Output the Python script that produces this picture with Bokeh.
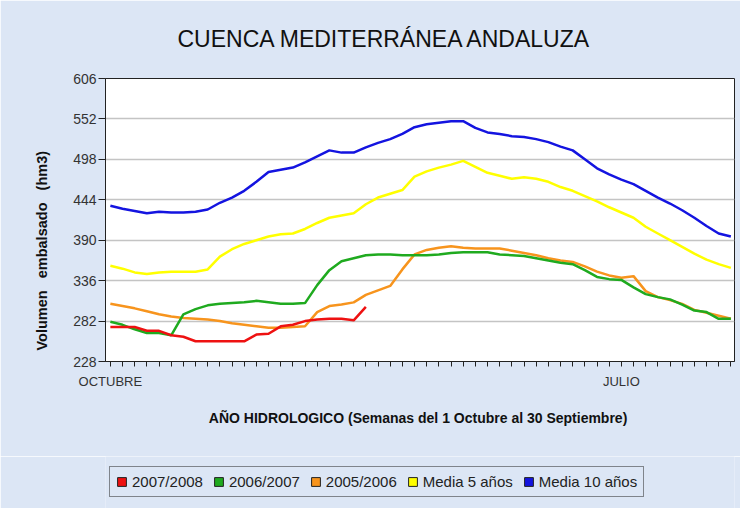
from bokeh.plotting import figure
from bokeh.layouts import column
from bokeh.models import FixedTicker, Legend, LegendItem, Title
from bokeh.embed import file_html
from bokeh.resources import INLINE

# ---- data (weeks of the hydrological year, 1 Oct .. 30 Sep) ----
weeks = list(range(52))
media_10 = [436, 432, 429, 426, 428, 427, 427, 428, 431, 440, 447, 456, 468, 481, 484, 487,
            494, 502, 510, 507, 507, 514, 520, 525, 532, 541, 545, 547, 549, 549, 540, 534,
            532, 529, 528, 525, 521, 515, 510, 498, 486, 478, 471, 465, 456, 447, 439, 430,
            420, 409, 399, 395]
media_5 = [356, 352, 347, 345, 347, 348, 348, 348, 351, 368, 378, 385, 390, 395, 398, 399,
           405, 413, 420, 423, 426, 438, 447, 452, 457, 475, 482, 487, 491, 496, 488, 480,
           476, 472, 474, 472, 468, 461, 456, 449, 442, 434, 427, 420, 408, 399, 390, 381,
           372, 364, 358, 353]
y2006_2007 = [281, 277, 271, 266, 266, 263, 291, 298, 303, 305, 306, 307, 309, 307, 305, 305,
              306, 330, 350, 362, 366, 370, 371, 371, 370, 370, 370, 371, 373, 374, 374, 374,
              371, 370, 369, 366, 363, 360, 358, 350, 341, 338, 337, 327, 318, 314, 311, 304,
              296, 294, 285, 285]
y2005_2006 = [305, 302, 299, 295, 291, 288, 286, 285, 284, 282, 279, 277, 275, 273, 273, 274,
              275, 294, 302, 304, 307, 317, 323, 329, 351, 371, 377, 380, 382, 380, 379, 379,
              379, 376, 373, 370, 366, 363, 361, 355, 348, 343, 340, 342, 322, 314, 310, 305,
              297, 293, 289, 285]
y2007_2008 = [274, 274, 274, 269, 269, 263, 261, 255, 255, 255, 255, 255, 264, 265, 275, 277,
              282, 284, 285, 285, 283, 301]
weeks_2007_2008 = weeks[:len(y2007_2008)]

y_ticks = [228, 282, 336, 390, 444, 498, 552, 606]
x_tick_labels = {0: "OCTUBRE", 42: "JULIO"}

series_names = ["2007/2008", "2006/2007", "2005/2006", "Media 5 años", "Media 10 años"]
series_colors = ["#ee1111", "#1faa1f", "#f7941d", "#ffff00", "#1414e0"]
series_values = [y2007_2008, y2006_2007, y2005_2006, media_5, media_10]

title_text = "CUENCA MEDITERRÁNEA ANDALUZA"
y_label_text = "Volumen\u00a0\u00a0\u00a0embalsado\u00a0\u00a0\u00a0(hm3)"
x_label_text = "AÑO HIDROLOGICO  (Semanas del 1 Octubre al 30 Septiembre)"

BG = "#dce6f5"
FONT = "Liberation Sans"

p = figure(width=740, height=456, output_backend="svg", toolbar_location=None,
           x_range=(-0.4, 51.3), y_range=(228, 606),
           min_border_left=105, min_border_right=6, min_border_top=76, min_border_bottom=95)
p.border_fill_color = BG
p.background_fill_color = "white"
p.outline_line_color = "#222222"
p.outline_line_width = 1

# title
p.title.text = title_text
p.title.align = "left"
p.title.offset = 72
p.title.text_font = FONT
p.title.text_font_size = "23px"
p.title.text_font_style = "normal"
p.title.text_color = "#111111"
p.title.vertical_align = "top"
p.title.standoff = 50

# y label as a side title
ylab = Title(text=y_label_text, align="left", offset=11, text_font=FONT,
             text_font_size="14.5px", text_font_style="bold", text_color="#111111",
             vertical_align="middle", standoff=40)
p.add_layout(ylab, "left")

# axes
p.yaxis.ticker = FixedTicker(ticks=y_ticks)
p.yaxis.major_label_text_font = FONT
p.yaxis.major_label_text_font_size = "14px"
p.yaxis.major_label_text_color = "#333333"
p.yaxis.major_tick_out = 7
p.yaxis.major_tick_in = 0
p.yaxis.minor_tick_line_color = None
p.yaxis.major_label_standoff = 2
p.yaxis.axis_line_color = "#222222"
p.yaxis.major_tick_line_color = "#222222"

p.xaxis.ticker = FixedTicker(ticks=weeks)
p.xaxis.major_label_overrides = {w: x_tick_labels.get(w, "") for w in weeks}
p.xaxis.major_label_text_font = FONT
p.xaxis.major_label_text_font_size = "13px"
p.xaxis.major_label_text_color = "#333333"
p.xaxis.major_tick_out = 5
p.xaxis.major_tick_in = 0
p.xaxis.minor_tick_line_color = None
p.xaxis.major_label_standoff = 7
p.xaxis.axis_line_color = "#222222"
p.xaxis.major_tick_line_color = "#222222"
p.xaxis.axis_label = x_label_text
p.xaxis.axis_label_text_font = FONT
p.xaxis.axis_label_text_font_size = "14px"
p.xaxis.axis_label_text_font_style = "bold"
p.xaxis.axis_label_text_color = "#111111"
p.xaxis.axis_label_standoff = 18

p.xgrid.grid_line_color = None
p.ygrid.grid_line_color = "#c4c4c4"
p.ygrid.grid_line_width = 1.5

# lines
lw = 2.5
p.line(weeks, media_10, line_color=series_colors[4], line_width=lw)
p.line(weeks, media_5, line_color=series_colors[3], line_width=lw)
p.line(weeks, y2005_2006, line_color=series_colors[2], line_width=lw)
p.line(weeks, y2006_2007, line_color=series_colors[1], line_width=lw)
p.line(weeks_2007_2008, y2007_2008, line_color=series_colors[0], line_width=lw)

# ---- legend strip (separate figure below the chart) ----
lg = figure(width=740, height=52, output_backend="svg", toolbar_location=None,
            x_range=(1000, 1001), y_range=(1000, 1001), x_axis_type=None, y_axis_type=None,
            min_border=0)
lg.border_fill_color = BG
lg.background_fill_color = BG
lg.outline_line_color = None
lg.xgrid.grid_line_color = None
lg.ygrid.grid_line_color = None

items = []
for name, col, vals in zip(series_names, series_colors, series_values):
    # one (out of view) swatch per series so the legend square is drawn
    r = lg.quad(left=weeks[:1], right=weeks[1:2], bottom=vals[:1], top=vals[1:2],
                fill_color=col, line_color="#222222", line_width=1)
    items.append(LegendItem(label=name, renderers=[r]))

legend = Legend(items=items, orientation="horizontal", location=(4, 11))
legend.label_text_font = FONT
legend.label_text_font_size = "15px"
legend.label_text_color = "#222222"
legend.glyph_width = 11
legend.glyph_height = 11
legend.label_standoff = 5
legend.spacing = 10
legend.padding = 6
legend.margin = 0
legend.border_line_color = "#222222"
legend.border_line_width = 1
legend.background_fill_color = BG
legend.background_fill_alpha = 1
lg.add_layout(legend, "center")

layout = column(p, lg, spacing=0)
html = file_html(layout, INLINE)
html = html.replace("<body>", '<body style="margin:0;background-color:%s;">' % BG, 1)
open("out.html", "w").write(html)
